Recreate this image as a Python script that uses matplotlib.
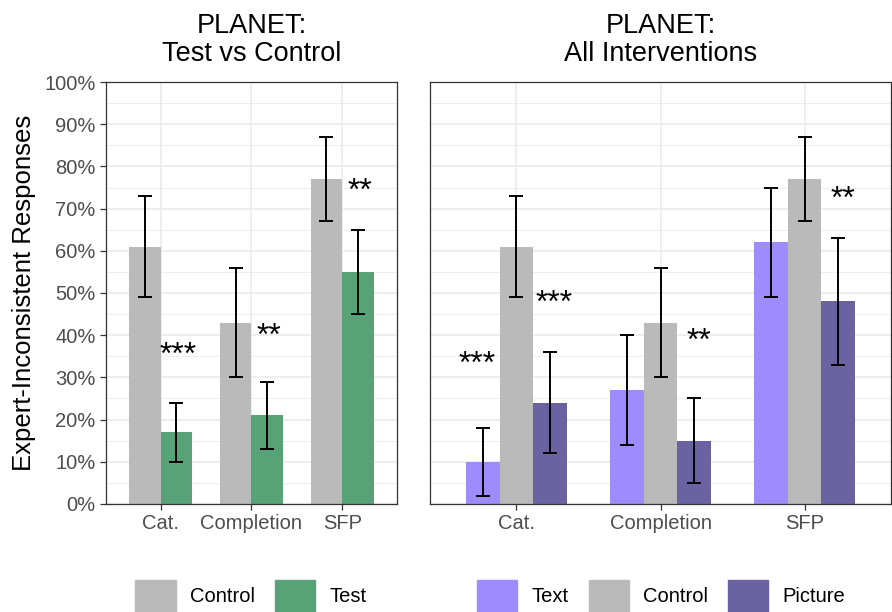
import matplotlib.pyplot as plt
import numpy as np
from matplotlib.ticker import MultipleLocator, FuncFormatter
from matplotlib.patches import Patch

plt.rcParams['font.family'] = ['Liberation Sans', 'DejaVu Sans']

categories = ['Cat.', 'Completion', 'SFP']

# left panel: Test vs Control (proportions)
ctrl = [0.61, 0.43, 0.77]
ctrl_lo = [0.49, 0.30, 0.67]
ctrl_hi = [0.73, 0.56, 0.87]
test = [0.17, 0.21, 0.55]
test_lo = [0.10, 0.13, 0.45]
test_hi = [0.24, 0.29, 0.65]
left_stars = ['***', '**', '**']
left_star_y = [0.35, 0.395, 0.74]

# right panel: all interventions
text_v = [0.10, 0.27, 0.62]
text_lo = [0.02, 0.14, 0.49]
text_hi = [0.18, 0.40, 0.75]
pic_v = [0.24, 0.15, 0.48]
pic_lo = [0.12, 0.05, 0.33]
pic_hi = [0.36, 0.25, 0.63]
text_stars = ['***', '', '']
text_star_y = [0.33, 0, 0]
pic_stars = ['***', '**', '**']
pic_star_y = [0.475, 0.385, 0.72]

c_gray = '#BABABA'
c_green = '#57A277'
c_text = '#9E8CFC'
c_pic = '#6B62A1'


def style_axes(ax, show_y=True):
    ax.set_facecolor('white')
    ax.set_ylim(0, 1)
    ax.set_xlim(0.4, 3.6)
    ax.set_xticks([1, 2, 3])
    ax.set_xticklabels(categories)
    ax.yaxis.set_major_locator(MultipleLocator(0.1))
    ax.yaxis.set_minor_locator(MultipleLocator(0.05))
    ax.yaxis.set_major_formatter(FuncFormatter(lambda v, p: f'{v*100:.0f}%'))
    ax.grid(True, which='major', color='#EBEBEB', lw=1.2, zorder=0)
    ax.grid(True, which='minor', axis='y', color='#EBEBEB', lw=0.6, zorder=0)
    ax.set_axisbelow(True)
    for s in ax.spines.values():
        s.set_color('#333333')
        s.set_linewidth(0.9)
    ax.tick_params(axis='both', which='major', length=4, width=0.9, color='#333333',
                   labelsize=14.5, labelcolor='#4D4D4D')
    ax.tick_params(axis='y', which='minor', length=0)
    if not show_y:
        ax.tick_params(axis='y', which='both', length=0, labelleft=False)


def bars(ax, x, vals, lo, hi, color):
    ax.bar(x, vals, width=w, color=color, zorder=2)
    err = [np.array(vals) - np.array(lo), np.array(hi) - np.array(vals)]
    ax.errorbar(x, vals, yerr=err, fmt='none', ecolor='black', elinewidth=1.4,
                capsize=5, capthick=1.4, zorder=3)


fig = plt.figure(figsize=(8.92, 6.12), dpi=100)
x = np.arange(1, 4)

# ---- left panel
ax1 = fig.add_axes([0.1188, 0.1765, 0.3262, 0.6895])
w = 0.35
bars(ax1, x - w / 2, ctrl, ctrl_lo, ctrl_hi, c_gray)
bars(ax1, x + w / 2, test, test_lo, test_hi, c_green)
for xi, s, yy in zip(x + w / 2 + 0.02, left_stars, left_star_y):
    ax1.text(xi, yy, s, ha='center', va='center', fontsize=23)
style_axes(ax1)
ax1.set_ylabel('Expert-Inconsistent Responses', fontsize=18.5, labelpad=6)
ax1.set_title('PLANET:\nTest vs Control', fontsize=19.5, pad=15, linespacing=1.1)
ax1.legend(handles=[Patch(color=c_gray, label='Control'), Patch(color=c_green, label='Test')],
           loc='center', bbox_to_anchor=(251 / 892, 1 - 596 / 612), bbox_transform=fig.transFigure,
           ncol=2, frameon=False, fontsize=14.5, handlelength=2.0, handleheight=2.0,
           handletextpad=0.7, columnspacing=1.0)

# ---- right panel
ax2 = fig.add_axes([0.4821, 0.1765, 0.5168, 0.6895])
w = 0.7 / 3
bars(ax2, x - w, text_v, text_lo, text_hi, c_text)
bars(ax2, x, ctrl, ctrl_lo, ctrl_hi, c_gray)
bars(ax2, x + w, pic_v, pic_lo, pic_hi, c_pic)
for xi, s, yy in zip(x - w - 0.04, text_stars, text_star_y):
    if s:
        ax2.text(xi, yy, s, ha='center', va='center', fontsize=23)
for xi, s, yy in zip(x + w + 0.03, pic_stars, pic_star_y):
    ax2.text(xi, yy, s, ha='center', va='center', fontsize=23)
style_axes(ax2, show_y=False)
ax2.set_title('PLANET:\nAll Interventions', fontsize=19.5, pad=15, linespacing=1.1)
ax2.legend(handles=[Patch(color=c_text, label='Text'), Patch(color=c_gray, label='Control'),
                    Patch(color=c_pic, label='Picture')],
           loc='center', bbox_to_anchor=(661 / 892, 1 - 596 / 612), bbox_transform=fig.transFigure,
           ncol=3, frameon=False, fontsize=14.5, handlelength=2.0, handleheight=2.0,
           handletextpad=0.7, columnspacing=1.0)

fig.savefig('out.png', dpi=100, facecolor='white')
